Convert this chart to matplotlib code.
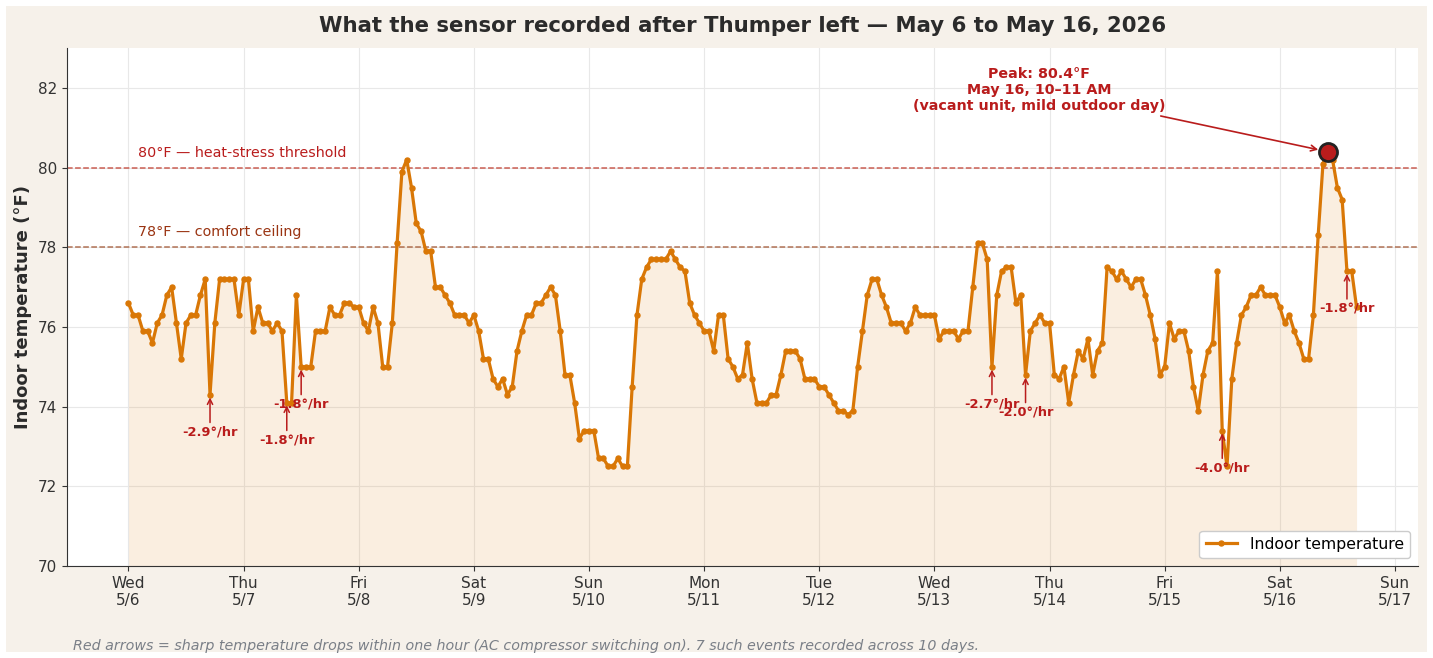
import numpy as np
import pandas as pd
import matplotlib
matplotlib.use("Agg")
import matplotlib.pyplot as plt
from matplotlib.patches import Rectangle

# -----------------------------
# Data: hourly readings, May 6 00:00 -> May 16 16:00
# -----------------------------
start = pd.Timestamp("2026-05-06 00:00")
temps = [
    76.6, 76.3, 76.3, 75.9, 75.9, 75.6, 76.1, 76.3, 76.8, 77.0, 76.1, 75.2, 76.1,
    76.3, 76.3, 76.8, 77.2, 74.3, 76.1, 77.2, 77.2, 77.2, 77.2, 76.3, 77.2, 77.2,
    75.9, 76.5, 76.1, 76.1, 75.9, 76.1, 75.9, 74.1, 74.1, 76.8, 75.0, 75.0, 75.0,
    75.9, 75.9, 75.9, 76.5, 76.3, 76.3, 76.6, 76.6, 76.5, 76.5,
    76.1, 75.9, 76.5, 76.1, 75.0, 75.0, 76.1, 78.1, 79.9, 80.2, 79.5, 78.6, 78.4,
    77.9, 77.9, 77.0, 77.0, 76.8, 76.6, 76.3, 76.3, 76.3, 76.1, 76.3, 75.9, 75.2,
    75.2, 74.7,
    74.5, 74.7, 74.3, 74.5, 75.4, 75.9, 76.3, 76.3, 76.6, 76.6, 76.8, 77.0, 76.8,
    75.9, 74.8, 74.8, 74.1, 73.2, 73.4, 73.4, 73.4, 72.7, 72.7, 72.5, 72.5, 72.7,
    72.5, 72.5, 74.5, 76.3, 77.2, 77.5, 77.7, 77.7, 77.7, 77.7, 77.9, 77.7, 77.5,
    77.4, 76.6, 76.3, 76.1, 75.9, 75.9, 75.4, 76.3, 76.3, 75.2, 75.0, 74.7, 74.8,
    75.6,
    74.7, 74.1, 74.1, 74.1, 74.3, 74.3, 74.8, 75.4, 75.4, 75.4, 75.2, 74.7, 74.7,
    74.7, 74.5, 74.5, 74.3, 74.1, 73.9, 73.9, 73.8, 73.9, 75.0, 75.9, 76.8, 77.2,
    77.2, 76.8, 76.5, 76.1, 76.1, 76.1, 75.9, 76.1, 76.5, 76.3, 76.3, 76.3, 76.3,
    75.7, 75.9, 75.9, 75.9, 75.7, 75.9, 75.9, 77.0, 78.1, 78.1, 77.7, 75.0,
    76.8, 77.4, 77.5, 77.5, 76.6, 76.8, 74.8, 75.9, 76.1, 76.3, 76.1, 76.1, 74.8,
    74.7, 75.0, 74.1, 74.8, 75.4, 75.2, 75.7, 74.8, 75.4, 75.6, 77.5, 77.4, 77.2,
    77.4, 77.2, 77.0, 77.2, 77.2, 76.8, 76.3, 75.7, 74.8, 75.0, 76.1, 75.7, 75.9,
    75.9, 75.4, 74.5, 73.9, 74.8, 75.4, 75.6, 77.4, 73.4, 72.5, 74.7, 75.6, 76.3,
    76.5,
    76.8, 76.8, 77.0, 76.8, 76.8, 76.8, 76.5, 76.1, 76.3, 75.9, 75.6, 75.2, 75.2,
    76.3, 78.3, 80.1, 80.4, 80.2, 79.5, 79.2, 77.4, 77.4, 76.5,
]
times = pd.date_range(start, periods=len(temps), freq="h")

# sharp drops (index of the reading after the drop) and their rate
drop_idx = [17, 33, 36, 180, 187, 228, 254]
drop_rate = ["-2.9°/hr", "-1.8°/hr", "-1.8°/hr", "-2.7°/hr", "-2.0°/hr", "-4.0°/hr", "-1.8°/hr"]

peak_idx = 250
day_ticks = pd.date_range("2026-05-06", "2026-05-17", freq="D")
day_labels = [f"{d:%a}\n{d.month}/{d.day}" for d in day_ticks]

# -----------------------------
# Colours
# -----------------------------
orange = "#d97706"
red = "#b91c1c"
brown = "#9a3412"
beige = "#f6f1ea"

# -----------------------------
# Figure
# -----------------------------
fig = plt.figure(figsize=(14.33, 6.58), dpi=100, facecolor="white")
fig.patches.append(Rectangle((6 / 1433, 6 / 658), 1421 / 1433, 646 / 658,
                             transform=fig.transFigure, facecolor=beige,
                             edgecolor="none", zorder=-10))
ax = fig.add_axes([0.0468, 0.1398, 0.9427, 0.787])
ax.set_facecolor("white")

ax.fill_between(times, temps, 70, color=orange, alpha=0.12, lw=0)
ax.plot(times, temps, color=orange, lw=2.3, marker="o", ms=3.6,
        label="Indoor temperature", zorder=3)

# thresholds
ax.axhline(80, color="#c0392b", ls="--", lw=1.1, alpha=0.8)
ax.axhline(78, color="#a0522d", ls="--", lw=1.1, alpha=0.8)
ax.text(start + pd.Timedelta(hours=2), 80.2, "80°F — heat-stress threshold",
        color=red, fontsize=10.3, va="bottom")
ax.text(start + pd.Timedelta(hours=2), 78.2, "78°F — comfort ceiling",
        color=brown, fontsize=10.3, va="bottom")

# drop arrows
for i, lab in zip(drop_idx, drop_rate):
    ax.annotate(lab, xy=(times[i], temps[i]), xytext=(0, -22),
                textcoords="offset points", ha="center", va="top",
                color=red, fontsize=9.4, fontweight="bold",
                arrowprops=dict(arrowstyle="->", color=red, lw=1.1,
                                shrinkA=0, shrinkB=2))

# peak
ax.plot(times[peak_idx], temps[peak_idx], "o", ms=13, color=red,
        markeredgecolor="#222222", markeredgewidth=2, zorder=5)
ax.annotate("Peak: 80.4°F\nMay 16, 10–11 AM\n(vacant unit, mild outdoor day)",
            xy=(times[peak_idx], temps[peak_idx]),
            xytext=(start + pd.Timedelta(days=7.91), 81.95),
            ha="center", va="center", color=red, fontsize=10.3,
            fontweight="bold", linespacing=1.15,
            arrowprops=dict(arrowstyle="->", color=red, lw=1.2, shrinkB=7))

# axes styling
ax.set_ylim(70, 83)
ax.set_yticks([70, 72, 74, 76, 78, 80, 82])
ax.set_xticks(day_ticks)
ax.set_xticklabels(day_labels)
ax.tick_params(labelsize=11, colors="#333333")
ax.grid(True, color="#e8e8e8", lw=0.8)
ax.set_axisbelow(True)
for s in ["top", "right"]:
    ax.spines[s].set_visible(False)
for s in ["left", "bottom"]:
    ax.spines[s].set_color("#333333")
ax.set_ylabel("Indoor temperature (°F)", fontsize=13, fontweight="bold",
              color="#2b2b2b")
ax.legend(loc="lower right", fontsize=11.3, framealpha=1)

fig.text(0.518, 0.975, "What the sensor recorded after Thumper left — May 6 to May 16, 2026",
         ha="center", va="top", fontsize=15.3, fontweight="bold", color="#2b2b2b")
fig.text(0.051, 0.012, "Red arrows = sharp temperature drops within one hour "
         "(AC compressor switching on). 7 such events recorded across 10 days.",
         fontsize=10.3, style="italic", color="#7a7f87")

fig.savefig("out.png", dpi=100, facecolor=fig.get_facecolor())
